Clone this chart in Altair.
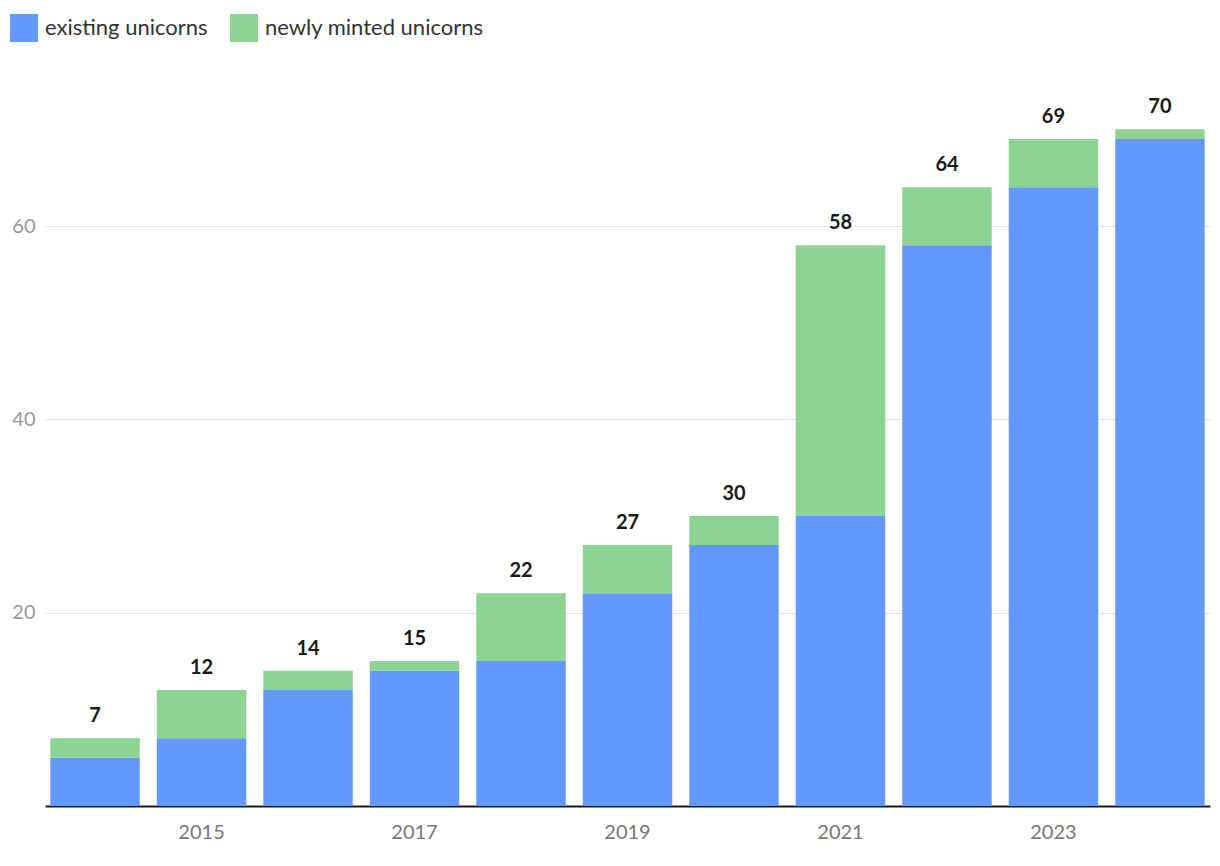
import altair as alt
import pandas as pd

years = ["2014", "2015", "2016", "2017", "2018", "2019", "2020", "2021", "2022", "2023", "2024"]
existing = [5, 7, 12, 14, 15, 22, 27, 30, 58, 64, 69]
newly = [2, 5, 2, 1, 7, 5, 3, 28, 6, 5, 1]
totals = [7, 12, 14, 15, 22, 27, 30, 58, 64, 69, 70]
series = ["existing unicorns", "newly minted unicorns"]
colors = ["#6399ff", "#8dd391"]
x_labels = ["2015", "2017", "2019", "2021", "2023"]
y_ticks = [20, 40, 60]

rows = []
for y, e, n in zip(years, existing, newly):
    rows.append({"year": y, "series": series[0], "value": e, "ord": 0})
    rows.append({"year": y, "series": series[1], "value": n, "ord": 1})
df = pd.DataFrame(rows)
tot = pd.DataFrame({"year": years, "total": totals})

FONT = "Lato"

xenc = alt.X(
    "year:N",
    sort=years,
    scale=alt.Scale(paddingInner=0.16, paddingOuter=0.05),
    axis=alt.Axis(
        title=None, values=x_labels, labelAngle=0, ticks=False,
        domain=True, domainColor="#1a1a1a", domainWidth=2,
        labelColor="#777777", labelFontSize=20, labelFont=FONT, labelPadding=16,
        grid=False,
    ),
)

bars = alt.Chart(df).mark_bar().encode(
    x=xenc,
    y=alt.Y(
        "value:Q",
        stack="zero",
        scale=alt.Scale(domain=[0, 75], nice=False),
        axis=alt.Axis(
            title=None, values=y_ticks, ticks=False, domain=False,
            grid=True, gridColor="#e3e3e3", gridWidth=1.2,
            labelColor="#999999", labelFontSize=20, labelFont=FONT, labelPadding=10,
        ),
    ),
    color=alt.Color(
        "series:N",
        scale=alt.Scale(domain=series, range=colors),
        legend=alt.Legend(
            title=None, orient="none", direction="horizontal",
            legendX=-35, legendY=-67,
            symbolType="square", symbolSize=784, symbolStrokeWidth=0,
            symbolOpacity=1, labelLimit=400,
            labelFontSize=22, labelFont=FONT, labelColor="#333333",
            columnPadding=22, labelOffset=7,
        ),
    ),
    order=alt.Order("ord:Q"),
)

labels = alt.Chart(tot).mark_text(
    baseline="bottom", dy=-12, fontSize=20, fontWeight="bold", font=FONT, color="#1a1a1a"
).encode(
    x=alt.X("year:N", sort=years),
    y=alt.Y("total:Q"),
    text=alt.Text("total:Q"),
)

chart = alt.layer(bars, labels).properties(
    width=1165,
    height=725,
    autosize=alt.AutoSizeParams(type="none"),
    padding={"left": 37, "top": 73, "right": 2, "bottom": 50},
).configure_view(stroke=None)

chart.save("out.html", embed_options={"renderer": "svg", "actions": False})
